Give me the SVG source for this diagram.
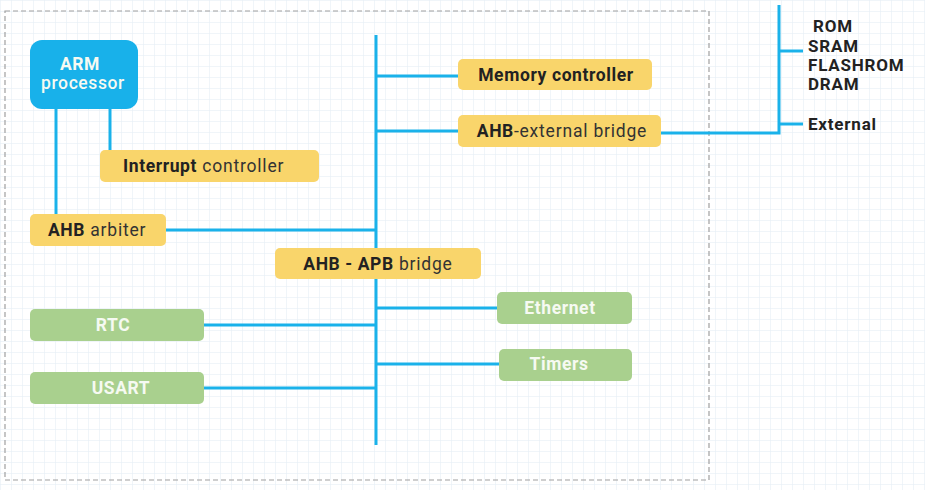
<svg xmlns="http://www.w3.org/2000/svg" width="925" height="490" viewBox="0 0 925 490">
<defs>
<pattern id="grid" width="11" height="11" patternUnits="userSpaceOnUse" x="0" y="0">
<path d="M11 0 L0 0 0 11" fill="none" stroke="#e2ebf4" stroke-width="1"/>
</pattern>
<style>
.bus{stroke:#1ab2ea;stroke-width:3;fill:none;stroke-linecap:butt}
.y{fill:#f9d56b}
.g{fill:#a9d08e}
.b{fill:#18b1ea}
text{font-family:Roboto,"Liberation Sans",sans-serif;font-size:17.5px;letter-spacing:0.6px}
.dk{fill:#222}
.wt{fill:#f6faf2;font-weight:bold}
.bd{font-weight:bold}
.nm{font-weight:normal;fill:#333;letter-spacing:0.8px}
.lbl{fill:#222;font-weight:bold;font-size:17px;letter-spacing:0.8px}
</style>
</defs>
<rect width="925" height="490" fill="#ffffff"/>
<rect width="925" height="490" fill="url(#grid)"/>
<rect x="5" y="11" width="704" height="469" fill="none" stroke="#a0a0a0" stroke-width="1.2" stroke-dasharray="5 3"/>

<g id="connectors">
<line class="bus" x1="376" y1="35" x2="376" y2="445"/>
<line class="bus" x1="56" y1="108" x2="56" y2="214"/>
<line class="bus" x1="110" y1="108" x2="110" y2="150"/>
<line class="bus" x1="166" y1="230" x2="376" y2="230"/>
<line class="bus" x1="376" y1="76" x2="458" y2="76"/>
<line class="bus" x1="376" y1="131" x2="458" y2="131"/>
<polyline class="bus" points="661,133 779,133 779,5"/>
<line class="bus" x1="779" y1="51" x2="803" y2="51"/>
<line class="bus" x1="779" y1="124" x2="803" y2="124"/>
<line class="bus" x1="376" y1="308" x2="497" y2="308"/>
<line class="bus" x1="376" y1="364" x2="499" y2="364"/>
<line class="bus" x1="204" y1="325" x2="376" y2="325"/>
<line class="bus" x1="204" y1="388" x2="376" y2="388"/>
</g>

<g id="arm">
<rect class="b" x="30" y="40" width="108" height="69" rx="12"/>
<text x="80" y="70" text-anchor="middle" class="wt" fill="#fff">ARM</text>
<text x="83" y="89" text-anchor="middle" class="wt" fill="#fff" style="font-weight:500">processor</text>
</g>

<g id="interrupt">
<rect class="y" x="100" y="150" width="219" height="32" rx="5"/>
<text x="123" y="172" class="dk"><tspan class="bd">Interrupt</tspan><tspan class="nm"> controller</tspan></text>
</g>

<g id="arbiter">
<rect class="y" x="30" y="214" width="136" height="32" rx="5"/>
<text x="48" y="236" class="dk"><tspan class="bd">AHB</tspan><tspan class="nm"> arbiter</tspan></text>
</g>

<g id="memctrl">
<rect class="y" x="458" y="59" width="194" height="31" rx="5"/>
<text x="556" y="81" text-anchor="middle" class="dk bd">Memory controller</text>
</g>

<g id="extbridge">
<rect class="y" x="458" y="115" width="203" height="32" rx="5"/>
<text x="562" y="137" text-anchor="middle" class="dk"><tspan class="bd">AHB</tspan><tspan class="nm">-external bridge</tspan></text>
</g>

<g id="apbbridge">
<rect class="y" x="275" y="248" width="206" height="31" rx="5"/>
<text x="378" y="270" text-anchor="middle" class="dk"><tspan class="bd">AHB - APB</tspan><tspan class="nm"> bridge</tspan></text>
</g>

<g id="ethernet">
<rect class="g" x="497" y="292" width="135" height="32" rx="5"/>
<text x="560" y="314" text-anchor="middle" class="wt">Ethernet</text>
</g>

<g id="timers">
<rect class="g" x="499" y="349" width="133" height="32" rx="5"/>
<text x="559" y="370" text-anchor="middle" class="wt">Timers</text>
</g>

<g id="rtc">
<rect class="g" x="30" y="309" width="174" height="32" rx="5"/>
<text x="113" y="331" text-anchor="middle" class="wt">RTC</text>
</g>

<g id="usart">
<rect class="g" x="30" y="372" width="174" height="32" rx="5"/>
<text x="121" y="394" text-anchor="middle" class="wt">USART</text>
</g>

<g id="memories">
<text x="813" y="32" class="lbl">ROM</text>
<text x="808" y="52" class="lbl">SRAM</text>
<text x="808" y="71" class="lbl">FLASHROM</text>
<text x="808" y="90" class="lbl">DRAM</text>
</g>
<g id="external">
<text x="808" y="130" class="lbl">External</text>
</g>
</svg>
